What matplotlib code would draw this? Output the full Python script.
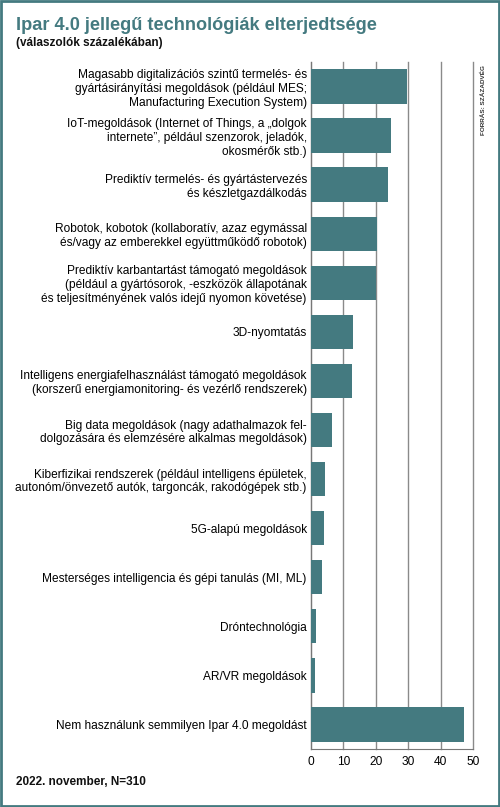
import matplotlib
matplotlib.use("Agg")
import matplotlib.pyplot as plt
from matplotlib.patches import Rectangle

# data (percent of respondents)
labels = [
    "Magasabb digitalizációs szintű termelés- és\ngyártásirányítási megoldások (például MES;\nManufacturing Execution System)",
    "IoT-megoldások (Internet of Things, a „dolgok\ninternete”, például szenzorok, jeladók,\nokosmérők stb.)",
    "Prediktív termelés- és gyártástervezés\nés készletgazdálkodás",
    "Robotok, kobotok (kollaboratív, azaz egymással\nés/vagy az emberekkel együttműködő robotok)",
    "Prediktív karbantartást támogató megoldások\n(például a gyártósorok, -eszközök állapotának\nés teljesítményének valós idejű nyomon követése)",
    "3D-nyomtatás",
    "Intelligens energiafelhasználást támogató megoldások\n(korszerű energiamonitoring- és vezérlő rendszerek)",
    "Big data megoldások (nagy adathalmazok fel-\ndolgozására és elemzésére alkalmas megoldások)",
    "Kiberfizikai rendszerek (például intelligens épületek,\nautonóm/önvezető autók, targoncák, rakodógépek stb.)",
    "5G-alapú megoldások",
    "Mesterséges intelligencia és gépi tanulás (MI, ML)",
    "Dróntechnológia",
    "AR/VR megoldások",
    "Nem használunk semmilyen Ipar 4.0 megoldást",
]
values = [29.7, 24.6, 23.7, 20.4, 19.9, 12.9, 12.6, 6.5, 4.4, 3.9, 3.5, 1.5, 1.2, 47.0]
xticks = [0, 10, 20, 30, 40, 50]

teal = "#447a80"
font = ["Liberation Sans", "DejaVu Sans"]

fig = plt.figure(figsize=(5.0, 8.07), dpi=100)
ax = fig.add_axes([0.622, 0.0719, 0.3246, 0.8513])

pos = list(range(len(labels)))
ax.barh(pos, values, height=0.7, color=teal, zorder=3)
ax.set_ylim(len(labels) - 0.5, -0.5)
ax.set_xlim(0, 50)

ax.set_yticks(pos)
ax.set_yticklabels(labels, family=font, fontsize=8.6, linespacing=1.2)
ax.set_xticks(xticks)
ax.set_xticklabels([str(t) for t in xticks], family=font, fontsize=8.6)
ax.tick_params(axis="y", length=0, pad=3)
ax.tick_params(axis="x", length=0, pad=5)

ax.grid(axis="x", color="#8a8a8a", linewidth=1.0, zorder=0)
for gl in ax.get_xgridlines():
    gl.set_clip_on(False)
for s in ["top", "right"]:
    ax.spines[s].set_visible(False)
ax.spines["left"].set_color("#777777")
ax.spines["bottom"].set_color("#777777")

fig.text(0.032, 0.9628, "Ipar 4.0 jellegű technológiák elterjedtsége",
         family=font, fontsize=13.1, fontweight="bold", color=teal, va="baseline")
fig.text(0.032, 0.9425, "(válaszolók százalékában)",
         family=font, fontsize=8.5, fontweight="bold", color="#111111", va="baseline")
fig.text(0.032, 0.027, "2022. november, N=310",
         family=font, fontsize=8.5, fontweight="bold", color="#111111", va="baseline")
fig.text(0.966, 0.92, "FORRÁS: SZÁZADVÉG", family=font, fontsize=4.6,
         fontweight="bold", color="#333333", rotation=90, va="top", ha="center")

# frame around the whole picture
fig.patches.append(Rectangle((0.002, 0.0015), 0.996, 0.997, transform=fig.transFigure,
                             fill=False, edgecolor=teal, linewidth=2.0))

fig.savefig("out.png", dpi=100, facecolor="white")
